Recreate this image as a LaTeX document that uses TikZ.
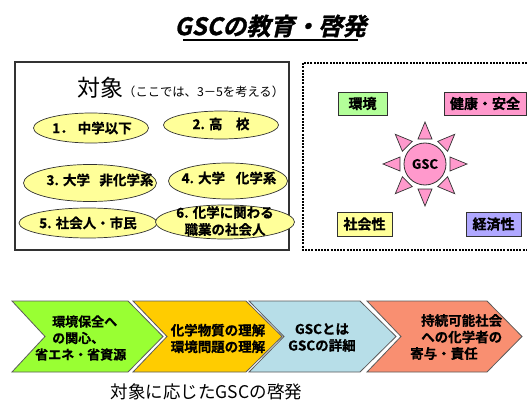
\documentclass[tikz,border=0pt]{standalone}
\usepackage{fontspec}
\setmainfont{Noto Sans CJK JP}[BoldFont={Noto Sans CJK JP Bold},BoldFeatures={FakeBold=0.8}]
\newfontfamily\titlefont{Noto Sans CJK JP Bold}[FakeSlant=0.22,FakeBold=1.2]
\usetikzlibrary{shapes.geometric}
\definecolor{ellfill}{RGB}{255,255,153}
\definecolor{envfill}{RGB}{179,255,153}
\definecolor{pinkfill}{RGB}{255,153,204}
\definecolor{socfill}{RGB}{255,255,153}
\definecolor{ecofill}{RGB}{176,168,255}
\definecolor{chA}{RGB}{153,255,51}
\definecolor{chB}{RGB}{255,204,0}
\definecolor{chC}{RGB}{183,222,232}
\definecolor{chD}{RGB}{249,143,113}
\definecolor{edge}{RGB}{50,50,50}
\begin{document}
\begin{tikzpicture}[x=1pt,y=-1pt,
  ell/.style={ellipse,draw=edge,line width=0.7pt,fill=ellfill,inner sep=0pt},
  etext/.style={font=\bfseries\fontsize{13.5}{17}\selectfont,inner sep=0pt,align=center},
  lab/.style={draw=edge,line width=0.9pt,inner sep=0pt,font=\bfseries\fontsize{14}{16}\selectfont},
  ray/.style={draw=edge,line width=0.7pt,fill=pinkfill},
  chev/.style={draw=edge!80,line width=0.8pt},
  ctext/.style={font=\bfseries\fontsize{13.5}{16.5}\selectfont,inner sep=0pt},
  dotbox/.style={line width=1.6pt,dash pattern=on 2pt off 1.2pt}
]
\useasboundingbox (0,0) rectangle (527,401);

% title
\node[font=\titlefont\fontsize{24}{28}\selectfont,inner sep=0pt] (title) at (270.5,26) {GSCの教育・啓発};
\draw[line width=1.4pt] (183,40) -- (358,40);

% left box
\draw[draw=edge,line width=1.1pt] (15,62) rectangle (289,250);
\node[anchor=base west,inner sep=0pt] (obj) at (77,97)
  {{\fontsize{23}{25}\selectfont 対象}{\fontsize{12.3}{14}\selectfont （ここでは、3－5を考える）}};

\node[ell,minimum width=115,minimum height=30] (e1) at (91,128) {};
\node[ell,minimum width=115,minimum height=28] (e2) at (221,125) {};
\node[ell,minimum width=133,minimum height=37] (e3) at (90,183) {};
\node[ell,minimum width=119,minimum height=36] (e4) at (228,181) {};
\node[ell,minimum width=138,minimum height=30] (e5) at (88,223) {};
\node[ell,minimum width=139,minimum height=34] (e6) at (225,222) {};

\node[etext] (t1) at (92,128) {1．\hspace{0.3em}中学以下};
\node[etext] (t2) at (221,124) {2. 高　校};
\node[etext] (t3) at (100,180) {3. 大学\hspace{0.7em}非化学系};
\node[etext] (t4) at (229,178) {4. 大学\hspace{0.8em}化学系};
\node[etext] (t5) at (88,223) {5. 社会人・市民};
\node[etext] (t6) at (225,221) {6. 化学に関わる\\職業の社会人};

% right dotted box
\draw[dotbox] (530,63) -- (303,63) -- (303,250) -- (530,250);

\node[lab,fill=envfill,minimum width=49,minimum height=23] (env) at (362.5,103.5) {環境};
\node[lab,fill=pinkfill,minimum width=82,minimum height=23] (health) at (485,103.5) {健康・安全};
\node[lab,fill=socfill,minimum width=55,minimum height=24] (soc) at (364.5,224) {社会性};
\node[lab,fill=ecofill,minimum width=55,minimum height=24] (eco) at (493.5,224) {経済性};

\node[circle,draw=edge,line width=0.8pt,fill=pinkfill,minimum size=42,inner sep=0pt,
  font=\bfseries\fontsize{13}{15}\selectfont] (gsc) at (425,164) {GSC};
\foreach \a in {0,45,...,315}
  \filldraw[ray,shift={(gsc.center)},rotate=\a] (25,7) -- (42,0) -- (25,-7) -- cycle;

% chevrons
\filldraw[chev,fill=chA] (12,301) -- (128,301) -- (163,336.5) -- (128,372) -- (12,372) -- (45,336.5) -- cycle;
\filldraw[chev,fill=chB] (133,301) -- (246,301) -- (282,336.5) -- (246,372) -- (133,372) -- (167,336.5) -- cycle;
\filldraw[chev,fill=chC] (249,301) -- (360,301) -- (396,336.5) -- (360,372) -- (249,372) -- (284,336.5) -- cycle;
\filldraw[chev,fill=chD] (367,301) -- (487,301) -- (522,336.5) -- (487,372) -- (367,372) -- (401,336.5) -- cycle;

\node[ctext,align=left,anchor=west,font=\bfseries\fontsize{13}{16.5}\selectfont] (c1) at (35,338)
  {\hspace{17pt}環境保全へ\\\hspace{17pt}の関心、\\省エネ・省資源};
\node[ctext,align=center] (c2) at (218,338.5) {化学物質の理解\\環境問題の理解};
\node[ctext,align=center] (c3) at (322,337.5) {GSCとは\\GSCの詳細};
\node[ctext,align=left,anchor=west] (c4) at (410,337)
  {\hspace{11pt}持続可能社会\\\hspace{11pt}への化学者の\\寄与・責任};

% caption
\node[inner sep=0pt,font=\fontsize{17.5}{20}\selectfont] (cap) at (206.5,392) {対象に応じたGSCの啓発};
\end{tikzpicture}
\end{document}
